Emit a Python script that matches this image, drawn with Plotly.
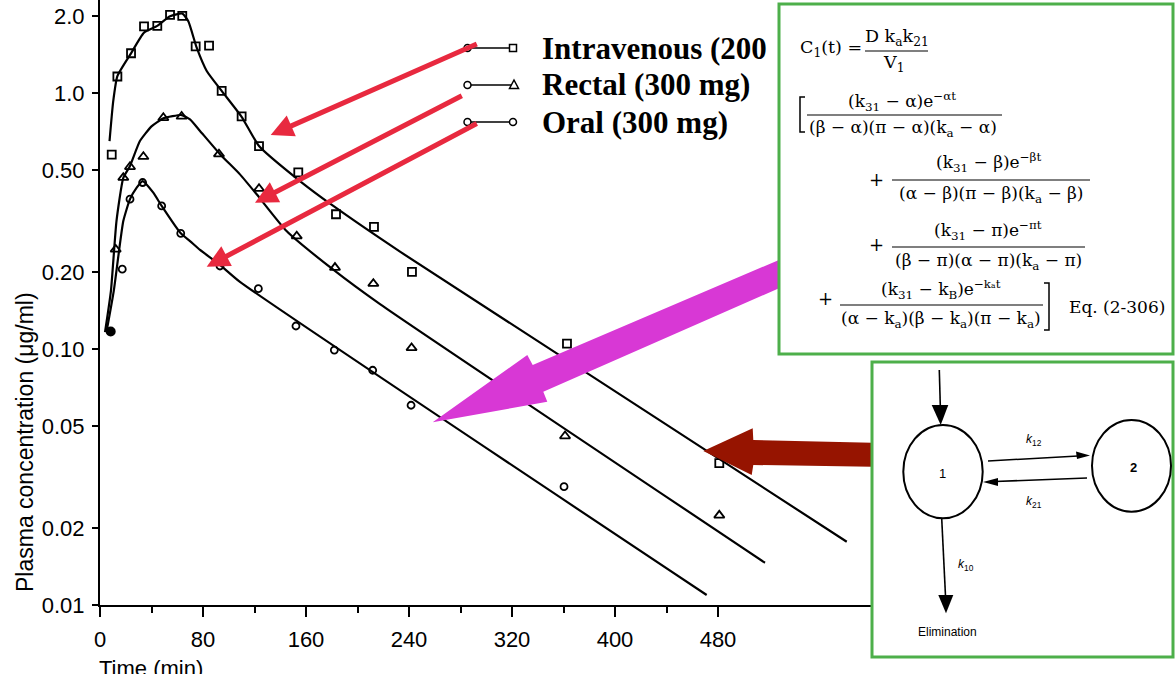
import plotly.graph_objects as go

# ---------------- data ----------------
time_iv = [9.1, 13.5, 24.1, 34.2, 44.5, 54.4, 63.9, 74.3, 84.7, 94.5, 110.0, 123.5,
           154.0, 183.3, 212.8, 242.3, 362.7, 481.0]
conc_iv = [0.575, 1.16, 1.43, 1.82, 1.83, 2.02, 2.00, 1.52, 1.53, 1.02, 0.81, 0.62,
           0.49, 0.336, 0.30, 0.20, 0.105, 0.0358]

time_rectal = [12.2, 18.1, 23.3, 33.7, 49.2, 63.4, 92.4, 123.5, 152.8, 182.5, 212.3,
               242.0, 361.2, 481.0]
conc_rectal = [0.245, 0.467, 0.515, 0.564, 0.80, 0.81, 0.577, 0.423, 0.276, 0.208,
               0.180, 0.101, 0.0457, 0.0224]

time_oral = [17.3, 23.3, 33.1, 47.9, 62.7, 93.2, 123.0, 152.2, 182.0, 211.8, 241.6, 360.4]
conc_oral = [0.205, 0.385, 0.447, 0.362, 0.283, 0.211, 0.172, 0.123, 0.099, 0.0826,
             0.0603, 0.029]

time_start = [8.3]
conc_start = [0.117]

fit_t_iv = [7.4, 10.3, 13.5, 24.1, 34.2, 44.5, 54.4, 64.0, 68.6, 75.1, 82.9, 94.5,
            110.0, 123.5, 155.3, 181.2, 233.0, 580.0]
fit_c_iv = [0.649, 0.931, 1.164, 1.429, 1.722, 1.828, 1.995, 2.042, 1.905, 1.503,
            1.219, 1.019, 0.807, 0.621, 0.453, 0.362, 0.240, 0.01766]

fit_t_rectal = [3.9, 8.5, 12.8, 18.1, 23.3, 31.0, 40.0, 49.2, 63.4, 69.9, 77.7, 93.2,
                108.7, 121.7, 144.9, 181.2, 217.5, 516.5]
fit_c_rectal = [0.1164, 0.1687, 0.316, 0.466, 0.519, 0.649, 0.741, 0.796, 0.820, 0.789,
                0.711, 0.577, 0.481, 0.402, 0.289, 0.204, 0.1496, 0.01462]

fit_t_oral = [5.0, 10.7, 18.1, 23.3, 28.5, 33.1, 41.4, 47.9, 62.7, 69.9, 77.7, 93.2,
              108.7, 471.2]
fit_c_oral = [0.1164, 0.1687, 0.316, 0.385, 0.427, 0.453, 0.408, 0.362, 0.283, 0.264,
              0.244, 0.213, 0.183, 0.01094]

x_ticks = [0, 80, 160, 240, 320, 400, 480]
x_minor = [40, 120, 200, 280, 360, 440]
y_ticks = [0.01, 0.02, 0.05, 0.1, 0.2, 0.5, 1.0, 2.0]
y_ticktext = ["0.01", "0.02", "0.05", "0.10", "0.20", "0.50", "1.0", "2.0"]

legend_labels = ["Intravenous (200", "Rectal (300 mg)", "Oral (300 mg)"]

# ---------------- helpers ----------------
W, H = 1175, 674
def X(p): return p / W
def Y(p): return 1 - p / H

SANS = "Liberation Sans, Arial, sans-serif"
SERIF = "DejaVu Serif, serif"
LEG = "Liberation Serif, Times New Roman, serif"

fig = go.Figure()

line_style = dict(color="black", width=2.2, shape="spline", smoothing=0.5)
for t, c in [(fit_t_iv, fit_c_iv), (fit_t_rectal, fit_c_rectal), (fit_t_oral, fit_c_oral)]:
    fig.add_trace(go.Scatter(x=t, y=c, mode="lines", line=line_style,
                             showlegend=False, hoverinfo="skip"))

for t, c, sym, sz in [(time_iv, conc_iv, "square-open", 8),
                      (time_rectal, conc_rectal, "triangle-up-open", 9),
                      (time_oral, conc_oral, "circle-open", 7)]:
    fig.add_trace(go.Scatter(x=t, y=c, mode="markers",
                             marker=dict(symbol=sym, size=sz, color="black",
                                         line=dict(width=1.8, color="black")),
                             showlegend=False))

fig.add_trace(go.Scatter(x=time_start, y=conc_start, mode="markers",
                         marker=dict(symbol="circle", size=10, color="black"),
                         showlegend=False))

shapes = []
annots = []

def sline(x0, y0, x1, y1, color="black", width=1.5):
    shapes.append(dict(type="line", xref="paper", yref="paper", x0=X(x0), y0=Y(y0),
                       x1=X(x1), y1=Y(y1), line=dict(color=color, width=width), layer="above"))

def poly(pts, fill, lw=0, lc=None):
    d = "M " + " L ".join(f"{X(a):.5f},{Y(b):.5f}" for a, b in pts) + " Z"
    shapes.append(dict(type="path", xref="paper", yref="paper", path=d,
                       fillcolor=fill, line=dict(width=lw, color=lc or fill), layer="above"))

def ellipse(x0, y0, x1, y1, width=2, fill="rgba(0,0,0,0)"):
    shapes.append(dict(type="circle", xref="paper", yref="paper", x0=X(x0), y0=Y(y1),
                       x1=X(x1), y1=Y(y0), line=dict(color="black", width=width),
                       fillcolor=fill, layer="above"))

def rect(x0, y0, x1, y1, color, width, fill):
    shapes.append(dict(type="rect", xref="paper", yref="paper", x0=X(x0), y0=Y(y1),
                       x1=X(x1), y1=Y(y0), line=dict(color=color, width=width),
                       fillcolor=fill, layer="above"))

def text(s, x, y, size, family=SERIF, xanchor="center", color="black", angle=0):
    annots.append(dict(text=s, x=X(x), y=Y(y), xref="paper", yref="paper",
                       xanchor=xanchor, yanchor="middle", showarrow=False,
                       textangle=angle, font=dict(family=family, size=size, color=color)))

# ---- legend samples ----
leg_rows = [48, 85, 122]
for yy in leg_rows:
    sline(468, yy, 513, yy, width=1.6)
    ellipse(464, yy - 3.5, 471, yy + 3.5, width=1.5, fill="white")
rect(509.5, 44.5, 516.5, 51.5, "black", 1.5, "white")
poly([(514, 80), (518.5, 88.5), (509.5, 88.5)], "white", 1.5, "black")
ellipse(509.5, 118.5, 516.5, 125.5, width=1.5, fill="white")
for lab, yy in zip(legend_labels, leg_rows):
    annots.append(dict(text=f"<b>{lab}</b>", x=X(540), y=Y(yy), xref="paper", yref="paper",
                       xanchor="left", yanchor="middle", showarrow=False,
                       font=dict(family=LEG, size=31, color="black")))

# ---- red arrows ----
for tip, tail in [((270.7, 135), (478.3, 43.3)), ((255, 202.7), (463.3, 95)),
                  ((206.7, 266.7), (478.3, 122.7))]:
    annots.append(dict(text="", x=X(tip[0]), y=Y(tip[1]), xref="paper", yref="paper",
                       ax=tail[0] - tip[0], ay=tail[1] - tip[1], showarrow=True,
                       arrowhead=2, arrowsize=0.9, arrowwidth=5, arrowcolor="#E8293F",
                       standoff=0, startstandoff=0))

# ---- magenta block arrow ----
poly([(432.7, 422.3), (527.3, 355), (532.7, 365), (800, 251), (800, 279),
      (543.3, 391.7), (547.3, 401.7)], "#D838D5")

# ---- dark red block arrow ----
poly([(703.3, 451), (752.7, 428.3), (753.3, 440), (872, 442.7), (872, 466.7),
      (753.3, 465), (751.7, 475)], "#961400")

# ---- equation box ----
rect(779, 4, 1173, 354, "#4DAF4A", 3, "white")

text("C<sub>1</sub>(t) =", 798, 48, 17.5, xanchor="left")
text("D k<sub>a</sub>k<sub>21</sub>", 897, 38, 17.5)
sline(865, 51, 928, 51, width=1.2)
text("V<sub>1</sub>", 893, 64, 17.5)

# bracket [
shapes.append(dict(type="path", xref="paper", yref="paper",
                   path=f"M {X(805):.5f},{Y(97):.5f} L {X(800):.5f},{Y(97):.5f} L {X(800):.5f},{Y(132):.5f} L {X(805):.5f},{Y(132):.5f}",
                   line=dict(color="black", width=1.5), layer="above"))
text("(k<sub>31</sub> − α)e<sup>−αt</sup>", 902, 101, 17)
sline(807, 115, 1002, 115, width=1.2)
text("(β − α)(π − α)(k<sub>a</sub> − α)", 903, 128, 17)

text("+", 877, 179, 18)
text("(k<sub>31</sub> − β)e<sup>−βt</sup>", 988, 163, 17)
sline(892, 180, 1090, 180, width=1.2)
text("(α − β)(π − β)(k<sub>a</sub> − β)", 991, 194, 17)

text("+", 877, 245, 18)
text("(k<sub>31</sub> − π)e<sup>−πt</sup>", 988, 230, 17)
sline(892, 247, 1085, 247, width=1.2)
text("(β − π)(α − π)(k<sub>a</sub> − π)", 988, 261, 17)

text("+", 825, 299, 18)
text("(k<sub>31</sub> − k<sub>B</sub>)e<sup>−kₐt</sup>", 941, 289, 17)
sline(840, 305, 1043, 305, width=1.2)
text("(α − k<sub>a</sub>)(β − k<sub>a</sub>)(π − k<sub>a</sub>)", 941, 319, 17)
shapes.append(dict(type="path", xref="paper", yref="paper",
                   path=f"M {X(1044):.5f},{Y(283):.5f} L {X(1049):.5f},{Y(283):.5f} L {X(1049):.5f},{Y(330):.5f} L {X(1044):.5f},{Y(330):.5f}",
                   line=dict(color="black", width=1.5), layer="above"))
text("Eq. (2-306)", 1117, 307, 17)

# ---- compartment diagram box ----
rect(872, 362, 1173, 657, "#4DAF4A", 3, "white")
sline(939.3, 370, 940.3, 406, width=1.6)
poly([(931.7, 405), (948.3, 405), (940.7, 425)], "black")
ellipse(903.3, 425, 982.7, 518.3)
ellipse(1092, 420, 1171, 511.7)
text("1", 942, 473, 13, family=SANS)
text("<b>2</b>", 1133, 467, 13, family=SANS)
sline(988, 461, 1078, 456, width=1.5)
poly([(1090, 455.5), (1076, 451.5), (1077, 459)], "black")
sline(1087, 478, 995, 481.5, width=1.5)
poly([(983, 482), (998, 478), (998, 486)], "black")
text("<i>k</i><sub>12</sub>", 1034, 440, 12, family=SANS)
text("<i>k</i><sub>21</sub>", 1034, 502, 12, family=SANS)
sline(941.7, 518.3, 945.5, 596, width=1.6)
poly([(938.3, 595), (953.3, 595), (946, 613.3)], "black")
text("<i>k</i><sub>10</sub>", 966, 565, 12, family=SANS)
text("Elimination", 947, 632, 12, family=SANS)

# ---- axis titles ----
text("Plasma concentration (μg/ml)", 25, 442, 23, family=SANS, angle=-90)
annots.append(dict(text="Time (min)", x=X(97), y=Y(654), xref="paper", yref="paper",
                   xanchor="left", yanchor="top", showarrow=False,
                   font=dict(family=SANS, size=22, color="black")))

fig.update_layout(
    width=W, height=H, autosize=False,
    margin=dict(l=0, r=0, t=0, b=0),
    paper_bgcolor="white", plot_bgcolor="white",
    showlegend=False,
    xaxis=dict(domain=[X(100), X(872.5)], range=[0, 600], showline=True, linecolor="black",
               linewidth=2, ticks="outside", ticklen=10, tickwidth=2, tickcolor="black",
               tickvals=x_ticks, ticktext=[str(v) for v in x_ticks],
               tickfont=dict(family=SANS, size=22, color="black"),
               showgrid=False, zeroline=False, automargin=False,
               minor=dict(tickvals=x_minor, ticks="outside", ticklen=6, tickwidth=1.5,
                          tickcolor="black"),
               ticklabelstandoff=4),
    yaxis=dict(type="log", domain=[Y(605), 1], range=[-2, 0.3633], showline=True,
               linecolor="black", linewidth=2, ticks="outside", ticklen=6, tickwidth=2,
               tickcolor="black", tickvals=y_ticks, ticktext=y_ticktext,
               tickfont=dict(family=SANS, size=22, color="black"),
               showgrid=False, zeroline=False, automargin=False, ticklabelstandoff=3),
    shapes=shapes,
    annotations=annots,
)

fig.write_html("out.html", config={"displayModeBar": False},
               post_script="document.body.style.margin='0';document.body.style.overflow='hidden';")
